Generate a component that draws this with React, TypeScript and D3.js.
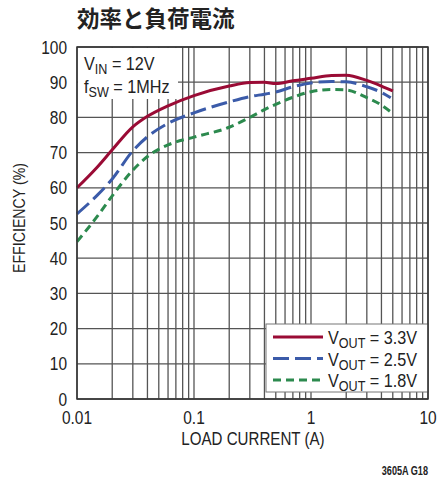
import React from 'react';
import * as d3 from 'd3';

const current = [0.01, 0.015, 0.02, 0.03, 0.04, 0.06, 0.1, 0.2, 0.3, 0.4, 0.5, 0.7, 1, 1.5, 2, 3, 4, 5];
const eff33 = [60, 66, 70.8, 77.3, 80.3, 83.3, 86.2, 88.9, 89.9, 90, 89.6, 90.4, 91.1, 91.9, 92, 90.5, 88.9, 87.5];
const current25 = [0.01, 0.015, 0.02, 0.03, 0.04, 0.06, 0.1, 0.2, 0.3, 0.4, 0.5, 0.7, 1, 1.5, 2, 3, 4, 4.8];
const eff25 = [52.6, 58, 62.5, 70.5, 74.5, 78.3, 81.3, 84.4, 85.9, 86.6, 87.2, 88.7, 89.8, 90.2, 90.1, 88.7, 87.1, 85.6];
const eff18 = [44.7, 52, 57.7, 65, 68.9, 72.2, 74.4, 77.2, 80, 82.2, 83.7, 85.7, 87.3, 87.9, 87.8, 85.6, 83.5, 81.1];

const yTicks = [0, 10, 20, 30, 40, 50, 60, 70, 80, 90, 100];
const xTicks = [0.01, 0.1, 1, 10];
const xTickLabels = ['0.01', '0.1', '1', '10'];

const series = [
    { name: '3.3V', xs: current, ys: eff33, color: '#9a0b35', dash: null },
    { name: '2.5V', xs: current25, ys: eff25, color: '#3b5ba9', dash: '16 6' },
    { name: '1.8V', xs: current, ys: eff18, color: '#2c8a4e', dash: '8 5' },
];

const font = '"Liberation Sans", Arial, sans-serif';

// narrow text: Helvetica Condensed look-alike by squeezing Liberation Sans
function T({ x, y, s = 18, sx = 0.86, anchor = 'start', rotate = 0, weight = 'normal', children }: any) {
    return (
        <text
            transform={`translate(${x},${y}) rotate(${rotate}) scale(${sx},1)`}
            fontSize={s}
            textAnchor={anchor}
            fontWeight={weight}
            fill="#222"
        >
            {children}
        </text>
    );
}

export default function App() {
    const left = 77;
    const right = 428;
    const top = 47;
    const bottom = 399;

    const x = d3.scaleLog().domain([0.01, 10]).range([left, right]);
    const y = d3.scaleLinear().domain([0, 100]).range([bottom, top]);

    const minor: number[] = [];
    for (let e = -2; e < 1; e++) {
        for (let k = 2; k <= 9; k++) minor.push(k * Math.pow(10, e));
    }

    const line = d3
        .line<[number, number]>()
        .x(d => x(d[0]))
        .y(d => y(d[1]))
        .curve(d3.curveMonotoneX);

    return (
        <svg
            width={439}
            height={481}
            style={{ position: 'absolute', left: 0, top: 0, background: '#fff' }}
            fontFamily={font}
        >
            <text
                x={77}
                y={27}
                fontSize={22.5}
                fontWeight="bold"
                fontFamily='"Noto Sans CJK JP", sans-serif'
                fill="#222"
            >
                効率と負荷電流
            </text>

            <g stroke="#555" strokeWidth={1.3}>
                {yTicks.map(t => (
                    <line key={'h' + t} x1={left} x2={right} y1={y(t)} y2={y(t)} />
                ))}
                {minor.map(t => (
                    <line key={'v' + t} x1={x(t)} x2={x(t)} y1={top} y2={bottom} />
                ))}
                {xTicks.map(t => (
                    <line key={'m' + t} x1={x(t)} x2={x(t)} y1={top} y2={bottom} />
                ))}
            </g>

            {/* annotation box */}
            <rect x={left + 1} y={top + 1} width={100} height={51} fill="#fff" />
            <T x={84} y={70} sx={0.9}>
                V<tspan fontSize={14} dy={4}>IN</tspan>
                <tspan dy={-4}> = 12V</tspan>
            </T>
            <T x={84} y={93} sx={0.9}>
                f<tspan fontSize={14} dy={4}>SW</tspan>
                <tspan dy={-4}> = 1MHz</tspan>
            </T>

            {series.map(s => (
                <path
                    key={s.name}
                    d={line(s.xs.map((v, i) => [v, s.ys[i]] as [number, number])) || ''}
                    fill="none"
                    stroke={s.color}
                    strokeWidth={3}
                    strokeDasharray={s.dash || undefined}
                />
            ))}

            {/* legend */}
            <rect x={266} y={324} width={right - 266} height={68} fill="#fff" stroke="#777" strokeWidth={1} />
            {series.map((s, i) => {
                const ly = 337 + i * 21.5;
                return (
                    <g key={'lg' + s.name}>
                        <line
                            x1={273}
                            x2={323}
                            y1={ly}
                            y2={ly}
                            stroke={s.color}
                            strokeWidth={3}
                            strokeDasharray={s.dash || undefined}
                        />
                        <T x={328} y={ly + 7} sx={0.9}>
                            V<tspan fontSize={14} dy={4}>OUT</tspan>
                            <tspan dy={-4}> = {s.name}</tspan>
                        </T>
                    </g>
                );
            })}

            <rect x={left} y={top} width={right - left} height={bottom - top} fill="none" stroke="#333" strokeWidth={1.5} />

            {yTicks.map(t => (
                <T key={'yl' + t} x={67} y={y(t) + 6.5} anchor="end">
                    {t}
                </T>
            ))}
            {xTicks.map((t, i) => (
                <T key={'xl' + t} x={x(t)} y={424} anchor="middle">
                    {xTickLabels[i]}
                </T>
            ))}
            <T x={253} y={445} anchor="middle" sx={0.84}>
                LOAD CURRENT (A)
            </T>
            <T x={25} y={218} anchor="middle" rotate={-90} s={16.5} sx={0.86}>
                EFFICIENCY (%)
            </T>
            <T x={428} y={475} anchor="end" s={12} sx={0.76} weight="bold">
                3605A G18
            </T>
        </svg>
    );
}
